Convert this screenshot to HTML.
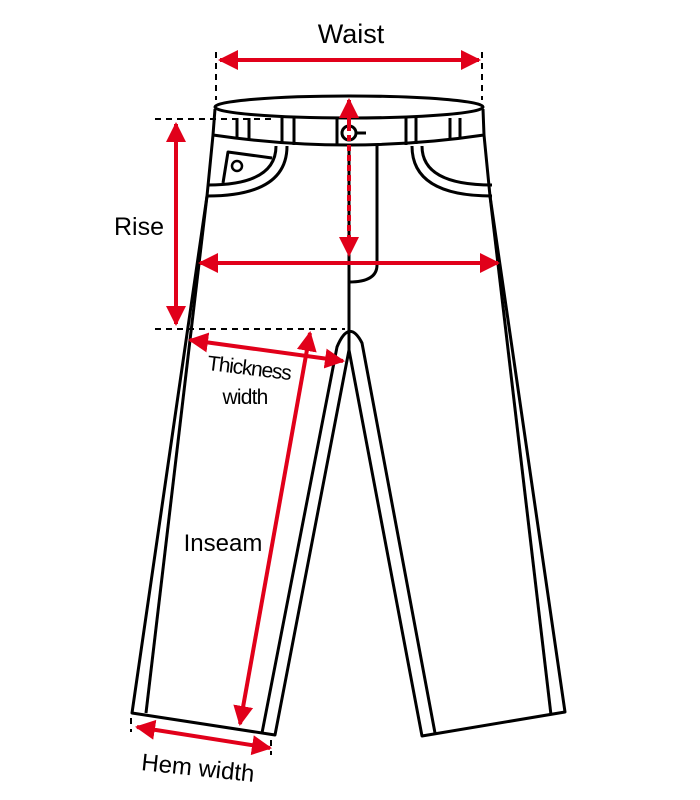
<!DOCTYPE html>
<html><head><style>body{margin:0;background:#fff}svg{display:block}</style></head><body>
<svg width="700" height="800" viewBox="0 0 700 800" xmlns="http://www.w3.org/2000/svg" font-family="Liberation Sans, sans-serif">
<defs>
<marker id="a" viewBox="0 0 10 10" refX="9" refY="5" markerWidth="5" markerHeight="5" orient="auto-start-reverse"><path d="M0,0L10,5L0,10z" fill="#e1001a"/></marker>
</defs>
<g fill="none" stroke="#000" stroke-width="3" stroke-linejoin="round">
<ellipse cx="349" cy="107" rx="134" ry="11"/>
<path d="M215,109 L213,135 Q349,155 484,135 L483,109"/>
<path d="M213,135 L207,196 L132,713 L275,735 L349,350 L422,736 L565,712 L490,196 L484,135"/>
<path d="M207,196 L146,713"/>
<path d="M490,196 L551,715"/>
<path d="M262,733 L337,347 Q349,318 362,343 L435,733"/>
<path d="M349,146 L349,350"/>
<path d="M377,146 L377,265 Q377,282 349,282"/>
<path d="M237,118 V138 M249,118 V139 M282,118 V144 M294,118 V145 M406,118 V145 M416,118 V144 M450,118 V139 M460,118 V138 M337,118 V146"/>
<circle cx="349" cy="133" r="7"/><path d="M356,133 H366"/>
<path d="M287,146 Q287,196 207,196 M276,146 Q276,185 208,185"/>
<path d="M272,158 L228,152 L223,183"/>
<circle cx="237" cy="166" r="5" stroke-width="2.5"/>
<path d="M412,146 Q412,196 492,196 M422,146 Q422,185 492,185"/>
</g>
<g stroke="#000" stroke-width="2" stroke-dasharray="6,5" fill="none">
<path d="M216,52 V100 M482,52 V100"/>
<path d="M155,119 H275"/>
<path d="M155,329 H345"/>
<path d="M131,718 V732 M271,740 V755"/>
</g>
<g stroke="#e1001a" stroke-width="4" fill="none">
<path d="M220,60 H479" marker-start="url(#a)" marker-end="url(#a)"/>
<path d="M176,124 V324" marker-start="url(#a)" marker-end="url(#a)"/>
<path d="M349,100 V125" marker-start="url(#a)"/>
<path d="M349,125 V255" stroke-dasharray="6,4" marker-end="url(#a)"/>
<path d="M200,263 H498" marker-start="url(#a)" marker-end="url(#a)"/>
<path d="M190,340 L343,361" marker-start="url(#a)" marker-end="url(#a)"/>
<path d="M310,333 L240,724" marker-start="url(#a)" marker-end="url(#a)"/>
<path d="M137,727 L270,748" marker-start="url(#a)" marker-end="url(#a)"/>
</g>
<g fill="#000">
<text x="351" y="43" font-size="27" text-anchor="middle">Waist</text>
<text x="139" y="235" font-size="25" text-anchor="middle">Rise</text>
<text x="249" y="375" font-size="21" text-anchor="middle" transform="rotate(7 249 368)" letter-spacing="-1.2">Thickness</text>
<text x="245" y="404" font-size="21" text-anchor="middle" letter-spacing="-0.8">width</text>
<text x="223" y="551" font-size="24" text-anchor="middle">Inseam</text>
<text x="198" y="776" font-size="24" text-anchor="middle" transform="rotate(6 198 768)">Hem width</text>
</g>
</svg>
</body></html>
